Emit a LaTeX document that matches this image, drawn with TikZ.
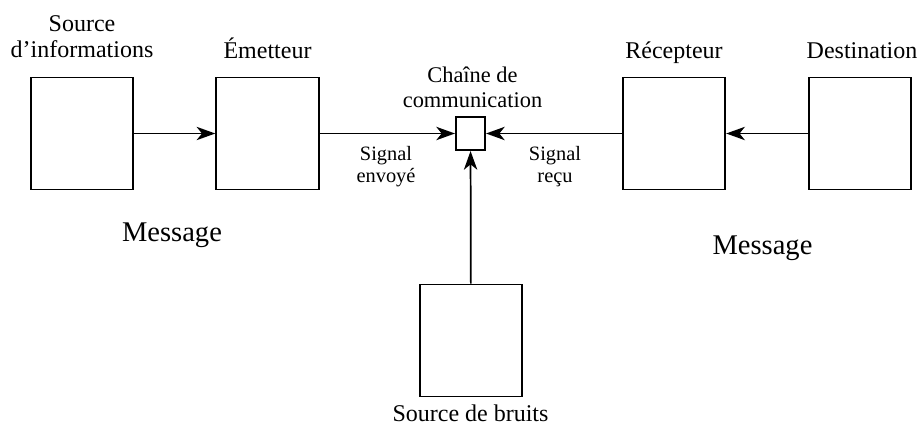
\documentclass[tikz,border=0pt]{standalone}
\usepackage{fontspec}
\setmainfont{Liberation Serif}
\usetikzlibrary{arrows.meta}

\begin{document}
\begin{tikzpicture}[x=0.75pt,y=-0.75pt,
  boite/.style={rectangle,draw,line width=1.3pt,minimum width=77pt,minimum height=84pt},
  petite/.style={rectangle,draw,line width=1.3pt,minimum width=22pt,minimum height=25pt},
  etiq/.style={align=center,anchor=base,inner sep=0pt,font=\fontsize{18}{19.5}\selectfont},
  signal/.style={align=center,anchor=base,inner sep=0pt,font=\fontsize{15.3}{16.1}\selectfont},
  msg/.style={anchor=base,inner sep=0pt,font=\fontsize{21.4}{24}\selectfont},
  fleche/.style={line width=1.3pt,-{Stealth[length=14pt,width=10pt,inset=4pt]}}]
\useasboundingbox (0,0) rectangle (920,425);

% les boites
\path (82,133.5) node[boite] (src){};
\path (267.5,133.5) node[boite] (emet){};
\path (470.5,133.5) node[petite] (canal){};
\path (674,133.5) node[boite] (recep){};
\path (860,133.5) node[boite] (dest){};
\path (471,340.5) node[boite] (bruit){};

% les titres (base = derniere ligne)
\path (82,57) node[etiq] (tsrc){Source\\d'informations};
\path (267.5,58) node[etiq] (temet){Émetteur};
\path (472.5,107) node[etiq,font=\fontsize{16.8}{18.75}\selectfont] (tcanal){Chaîne de\\communication};
\path (674,58) node[etiq] (trecep){Récepteur};
\path (862,58) node[etiq] (tdest){Destination};
\path (470.5,421) node[etiq] (tbruit){Source de bruits};

% les messages
\path (172,241) node[msg] (msg1){Message};
\path (762.5,254) node[msg] (msg2){Message};

% les fleches
\draw[fleche] (src) -- (emet);
\draw[fleche] (emet) -- (canal);
\draw[fleche] (recep) -- (canal);
\draw[fleche] (dest) -- (recep);
\draw[fleche] (bruit) -- (canal);

\path (386,182) node[signal] (senv){Signal\\envoyé};
\path (555,182) node[signal] (srecu){Signal\\reçu};
\end{tikzpicture}
\end{document}
